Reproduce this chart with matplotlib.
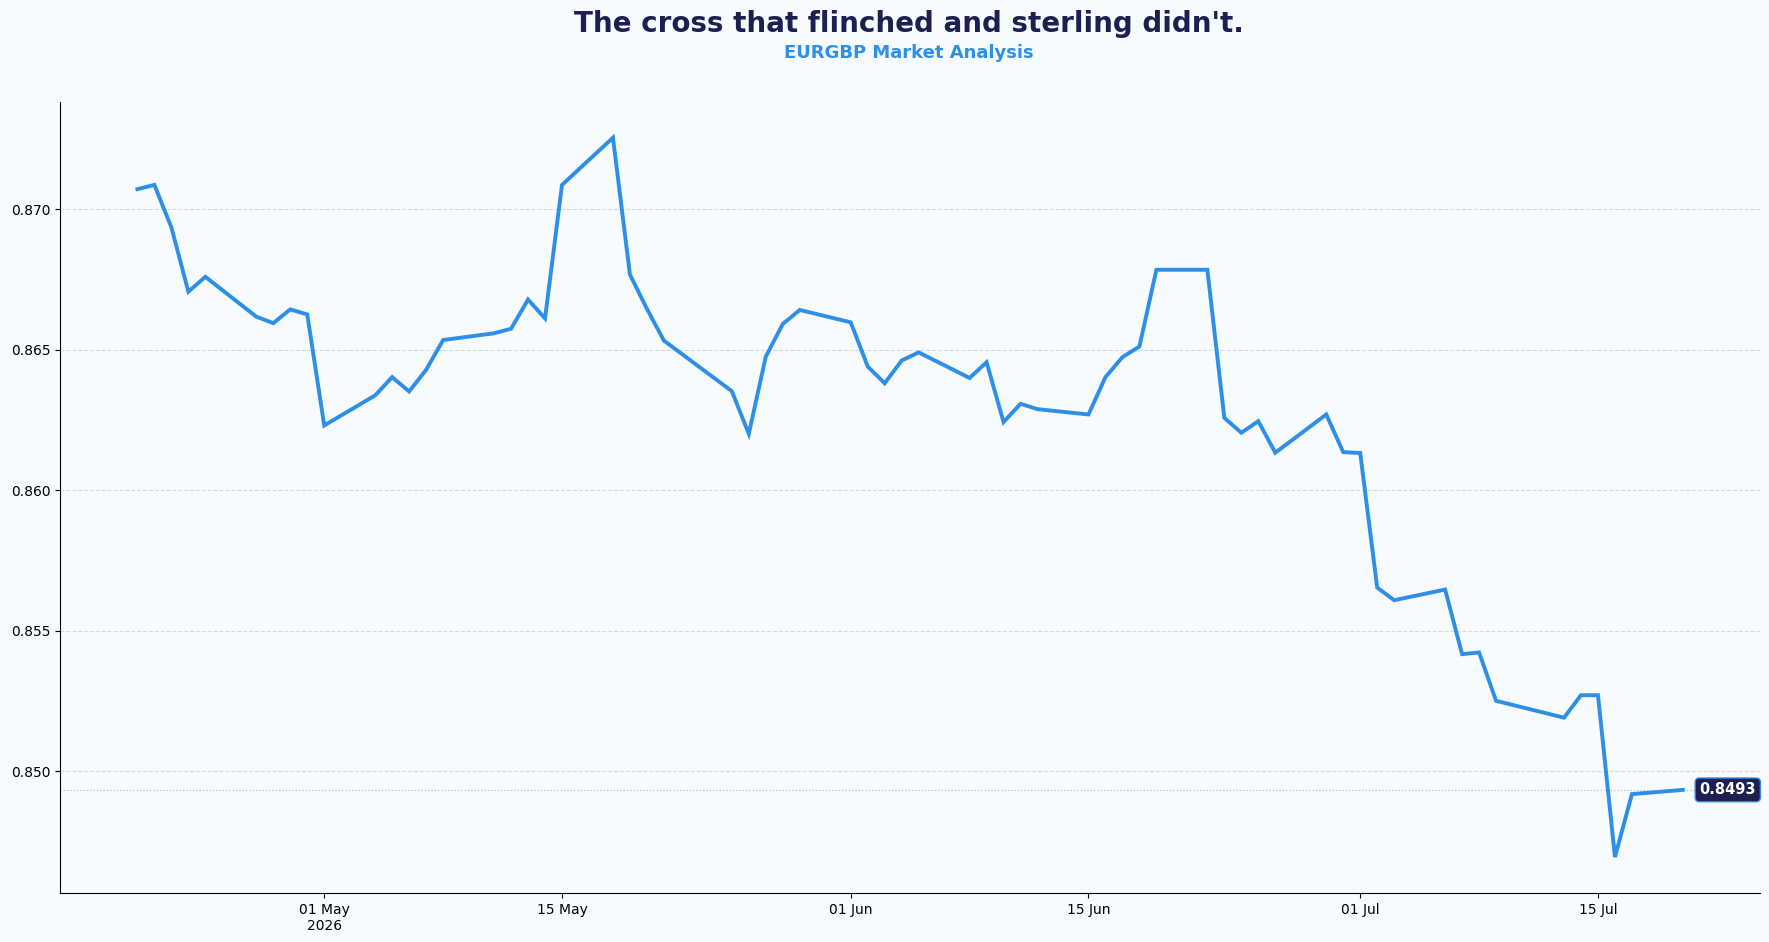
import numpy as np
import pandas as pd
import matplotlib
matplotlib.use("Agg")
import matplotlib.pyplot as plt
import matplotlib.dates as mdates

# EURGBP daily closes (business days)
dates = pd.to_datetime([
    "2026-04-20", "2026-04-21", "2026-04-22", "2026-04-23", "2026-04-24",
    "2026-04-27", "2026-04-28", "2026-04-29", "2026-04-30", "2026-05-01",
    "2026-05-04", "2026-05-05", "2026-05-06", "2026-05-07", "2026-05-08",
    "2026-05-11", "2026-05-12", "2026-05-13", "2026-05-14", "2026-05-15",
    "2026-05-18", "2026-05-19", "2026-05-20", "2026-05-21", "2026-05-22",
    "2026-05-25", "2026-05-26", "2026-05-27", "2026-05-28", "2026-05-29",
    "2026-06-01", "2026-06-02", "2026-06-03", "2026-06-04", "2026-06-05",
    "2026-06-08", "2026-06-09", "2026-06-10", "2026-06-11", "2026-06-12",
    "2026-06-15", "2026-06-16", "2026-06-17", "2026-06-18", "2026-06-19",
    "2026-06-22", "2026-06-23", "2026-06-24", "2026-06-25", "2026-06-26",
    "2026-06-29", "2026-06-30", "2026-07-01", "2026-07-02", "2026-07-03",
    "2026-07-06", "2026-07-07", "2026-07-08", "2026-07-09", "2026-07-10",
    "2026-07-13", "2026-07-14", "2026-07-15", "2026-07-16", "2026-07-17",
    "2026-07-20",
])
closes = [
    0.87071, 0.87086, 0.86935, 0.86706, 0.86759,
    0.86617, 0.86594, 0.86643, 0.86625, 0.86230,
    0.86337, 0.86402, 0.86351, 0.86428, 0.86534,
    0.86558, 0.86574, 0.86678, 0.86611, 0.87086,
    0.87254, 0.86767, 0.86645, 0.86532, 0.86487,
    0.86352, 0.86200, 0.86475, 0.86591, 0.86641,
    0.86597, 0.86440, 0.86380, 0.86461, 0.86490,
    0.86399, 0.86455, 0.86242, 0.86307, 0.86288,
    0.86269, 0.86402, 0.86473, 0.86511, 0.86784,
    0.86784, 0.86257, 0.86204, 0.86245, 0.86133,
    0.86269, 0.86135, 0.86132, 0.85653, 0.85608,
    0.85646, 0.85416, 0.85422, 0.85250, 0.85235,
    0.85190, 0.85270, 0.85270, 0.84694, 0.84918,
    0.84933,
]

title = "The cross that flinched and sterling didn't."
subtitle = "EURGBP Market Analysis"

line_color = "#2e8fe8"
navy = "#1c1f4f"
bg = "#f8fbfe"

fig, ax = plt.subplots(figsize=(17.69, 9.42), dpi=100)
fig.patch.set_facecolor(bg)
ax.set_facecolor(bg)

ax.plot(dates, closes, color=line_color, linewidth=2.8, solid_joinstyle="miter")

last = closes[-1]
ax.axhline(last, color="#b8bcc4", linestyle=":", linewidth=0.9, zorder=0)
ax.annotate(f"{last:.4f}", xy=(dates[-1], last), xytext=(12, 0),
            textcoords="offset points", ha="left", va="center",
            color="white", fontsize=10.5, fontweight="bold",
            bbox=dict(boxstyle="round,pad=0.3", facecolor=navy,
                      edgecolor=line_color, linewidth=1))

ax.grid(axis="y", linestyle="--", color="#d5d8dd", linewidth=0.8)
ax.grid(axis="x", visible=False)
ax.spines["top"].set_visible(False)
ax.spines["right"].set_visible(False)

ax.xaxis.set_major_locator(mdates.DayLocator(bymonthday=[1, 15]))


def fmt_date(x, pos):
    d = mdates.num2date(x)
    if pos == 0:
        return d.strftime("%d %b\n%Y")
    return d.strftime("%d %b")


ax.xaxis.set_major_formatter(plt.FuncFormatter(fmt_date))
ax.yaxis.set_major_formatter(plt.FormatStrFormatter("%.3f"))
ax.tick_params(axis="both", labelsize=10)

fig.text(0.514, 0.975, title, ha="center", va="center", fontsize=20,
         fontweight="bold", color=navy)
fig.text(0.514, 0.944, subtitle, ha="center", va="center", fontsize=13,
         fontweight="bold", color=line_color)

fig.subplots_adjust(left=0.034, right=0.995, top=0.892, bottom=0.052)
fig.savefig("out.png", facecolor=bg)
